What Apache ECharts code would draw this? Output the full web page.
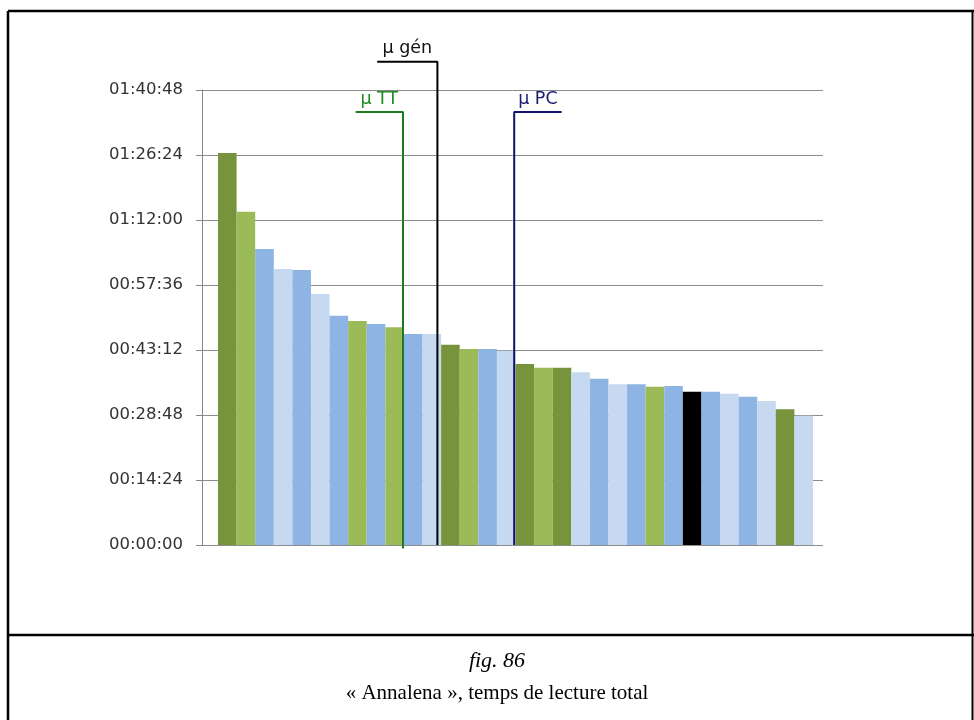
<!DOCTYPE html>
<html>
<head>
<meta charset="utf-8">
<script src="https://cdn.jsdelivr.net/npm/echarts@6/dist/echarts.min.js"></script>
<style>
html,body{margin:0;padding:0;background:#fff;}
#chart{width:974px;height:720px;}
</style>
</head>
<body>
<div id="chart"></div>
<script>
// ---- data ----
const categories = ['1','2','3','4','5','6','7','8','9','10','11','12','13','14','15','16',
                    '17','18','19','20','21','22','23','24','25','26','27','28','29','30','31','32'];
// total reading time in seconds
const readingTimes = [5212, 4430, 3934, 3668, 3655, 3336, 3048, 2977, 2937, 2893, 2804, 2804, 2662, 2605, 2605, 2582,
                      2405, 2356, 2356, 2295, 2210, 2136, 2136, 2104, 2113, 2037, 2037, 2011, 1971, 1914, 1803, 1718];
// colour group of each bar
const barGroups = ['DG','LG','B','LB','B','LB','B','LG','B','LG','B','LB','DG','LG','B','LB',
                   'DG','LG','DG','LB','B','LB','B','LG','B','K','B','LB','B','LB','DG','LB'];
const yTickLabels = ['00:00:00','00:14:24','00:28:48','00:43:12','00:57:36','01:12:00','01:26:24','01:40:48'];
const yStep = 864;
const yMax = 6048;

// mean markers (position along the bar row in bar units, time in seconds)
const meanNames = ['μ TT', 'μ gén', 'μ PC'];
const meanPos = [9.95, 11.8, 15.93];
const meanHookEnd = [7.4, 8.56, 18.48];
const meanTop = [5755, 6425, 5755];
const meanBottom = [-45, 0, 0];

// ---- styles ----
const groupColors = {DG:'#77933C', LG:'#9BBB59', B:'#8DB4E2', LB:'#C6D9F1', K:'#000000'};
const meanColors = ['#228B22', '#111111', '#1A1A70'];
const meanLineColors = ['#1F7A1F', '#000000', '#12126E'];

const chart = echarts.init(document.getElementById('chart'), null, {renderer:'canvas'});

const meanSeries = [];
meanNames.forEach((n, i) => {
  meanSeries.push({
    type:'line', xAxisIndex:2, yAxisIndex:1, clip:false, silent:true,
    symbol:'none', z:5,
    lineStyle:{color:meanLineColors[i], width:2},
    data:[[meanHookEnd[i], meanTop[i]], [meanPos[i], meanTop[i]], [meanPos[i], meanBottom[i]]]
  });
  meanSeries.push({
    type:'scatter', xAxisIndex:2, yAxisIndex:1, clip:false, silent:true,
    symbolSize:0, z:5, itemStyle:{opacity:1},
    label:{show:true, position:'top', distance:4, formatter:n,
           color:meanColors[i], fontFamily:'DejaVu Sans', fontSize:17.5},
    data:[[(meanHookEnd[i] + meanPos[i]) / 2, meanTop[i]]]
  });
});

const option = {
  animation:false,
  backgroundColor:'#ffffff',
  grid:[
    {left:202, right:151, top:90, bottom:175},
    {left:218, right:161, top:90, bottom:175}
  ],
  xAxis:[
    {gridIndex:0, type:'value', min:0, max:1, show:false},
    {gridIndex:1, type:'category', data:categories, show:false, boundaryGap:true},
    {gridIndex:1, type:'value', min:0, max:categories.length, show:false, position:'top'}
  ],
  yAxis:[
    {gridIndex:0, type:'value', min:0, max:yMax, interval:yStep,
     axisLine:{show:true, lineStyle:{color:'#868686', width:1}},
     axisTick:{show:true, length:6, lineStyle:{color:'#868686'}},
     splitLine:{show:true, lineStyle:{color:'#8C8C8C', width:1}},
     axisLabel:{margin:19, color:'#333333', fontFamily:'DejaVu Sans', fontSize:16.5,
       formatter:(v) => yTickLabels[Math.round(v / yStep)]}
    },
    {gridIndex:1, type:'value', min:0, max:yMax, show:false}
  ],
  series:[
    {type:'bar', xAxisIndex:1, yAxisIndex:1, barCategoryGap:'0%', z:2,
     data:readingTimes.map((v, i) => ({value:v, itemStyle:{color:groupColors[barGroups[i]]}}))
    }
  ].concat(meanSeries),
  graphic:[
    {type:'line', shape:{x1:8, y1:11, x2:974, y2:11}, style:{stroke:'#000', lineWidth:2.5}},
    {type:'line', shape:{x1:8, y1:11, x2:8, y2:720}, style:{stroke:'#000', lineWidth:2.5}},
    {type:'line', shape:{x1:972.5, y1:11, x2:972.5, y2:720}, style:{stroke:'#000', lineWidth:2}},
    {type:'line', shape:{x1:8, y1:635, x2:974, y2:635}, style:{stroke:'#000', lineWidth:2.5}},
    {type:'text', x:497, y:661, style:{text:'fig. 86', font:'italic 22px "Liberation Serif"', fill:'#000',
      textAlign:'center', textVerticalAlign:'middle'}},
    {type:'text', x:497, y:693, style:{text:'« Annalena », temps de lecture total', font:'21px "Liberation Serif"', fill:'#000',
      textAlign:'center', textVerticalAlign:'middle'}}
  ]
};
chart.setOption(option);
</script>
</body>
</html>
